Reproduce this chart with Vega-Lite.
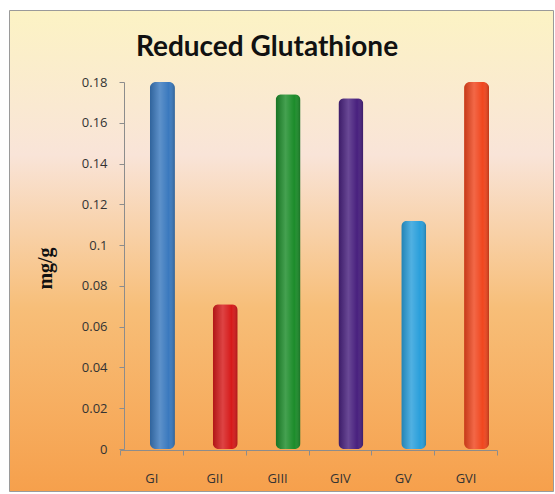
{
  "$schema": "https://vega.github.io/schema/vega-lite/v6.json",
  "width": 544,
  "height": 481,
  "autosize": "none",
  "padding": {"left": 9, "top": 10, "right": 2, "bottom": 3},
  "background": "#ffffff",
  "config": {
    "view": {
      "stroke": "#9a9a9a",
      "strokeWidth": 1,
      "fill": {
        "gradient": "linear", "x1": 0, "y1": 0, "x2": 0, "y2": 1,
        "stops": [
          {"offset": 0, "color": "#FCF3C4"},
          {"offset": 0.3, "color": "#F9E4D8"},
          {"offset": 0.62, "color": "#F7BE78"},
          {"offset": 1, "color": "#F6A04C"}
        ]
      }
    }
  },
  "title": {
    "text": "Reduced Glutathione",
    "font": "Lato",
    "fontSize": 28,
    "fontWeight": "bold",
    "color": "#111111",
    "anchor": "middle",
    "offset": -52,
    "dx": -14
  },
  "data": {
    "values": [
      {"group": "GI", "value": 0.180, "color": "#3A79BE"},
      {"group": "GII", "value": 0.071, "color": "#D61A1A"},
      {"group": "GIII", "value": 0.174, "color": "#1C8C2A"},
      {"group": "GIV", "value": 0.172, "color": "#48207E"},
      {"group": "GV", "value": 0.112, "color": "#2A9FDB"},
      {"group": "GVI", "value": 0.180, "color": "#F0461E"}
    ]
  },
  "encoding": {
    "x": {
      "field": "group",
      "type": "nominal",
      "sort": null,
      "scale": {"range": [111, 488], "paddingInner": 0, "paddingOuter": 0},
      "axis": {
        "title": null,
        "orient": "bottom",
        "offset": -41,
        "labelAngle": 0,
        "labelFont": "Open Sans",
        "labelFontSize": 13,
        "labelColor": "#333333",
        "labelPadding": 17,
        "domainColor": "#8c8c8c",
        "tickColor": "#8c8c8c",
        "tickSize": 5,
        "tickBand": "extent",
        "grid": false
      }
    },
    "y": {
      "field": "value",
      "type": "quantitative",
      "scale": {"domain": [0, 0.18], "range": [439, 72], "nice": false},
      "axis": {
        "title": "mg/g",
        "titleFont": "Liberation Serif",
        "titleFontSize": 20,
        "titleFontWeight": "bold",
        "titleColor": "#111111",
        "titleBaseline": "middle",
        "titleAlign": "center",
        "titleX": -79,
        "titleY": 258,
        "offset": -115,
        "values": [0, 0.02, 0.04, 0.06, 0.08, 0.1, 0.12, 0.14, 0.16, 0.18],
        "labelExpr": "datum.value === 0 ? '0' : format(datum.value, '.2~f')",
        "labelFont": "Open Sans",
        "labelFontSize": 13,
        "labelColor": "#333333",
        "labelPadding": 12,
        "domainColor": "#8c8c8c",
        "tickColor": "#8c8c8c",
        "tickSize": 5,
        "grid": false
      }
    }
  },
  "layer": [
    {
      "mark": {"type": "bar", "width": 25, "xOffset": 11, "cornerRadiusTopLeft": 6, "cornerRadiusTopRight": 6, "cornerRadiusBottomLeft": 6, "cornerRadiusBottomRight": 6},
      "encoding": {
        "color": {"field": "color", "type": "nominal", "scale": null, "legend": null}
      }
    },
    {
      "mark": {
        "type": "bar", "width": 25, "xOffset": 11,
        "cornerRadiusTopLeft": 6, "cornerRadiusTopRight": 6, "cornerRadiusBottomLeft": 6, "cornerRadiusBottomRight": 6,
        "fill": {
          "gradient": "linear", "x1": 0, "y1": 0, "x2": 1, "y2": 0,
          "stops": [
            {"offset": 0, "color": "rgba(0,0,0,0.18)"},
            {"offset": 0.4, "color": "rgba(255,255,255,0.18)"},
            {"offset": 0.75, "color": "rgba(255,255,255,0)"},
            {"offset": 1, "color": "rgba(0,0,0,0.22)"}
          ]
        }
      }
    }
  ]
}
